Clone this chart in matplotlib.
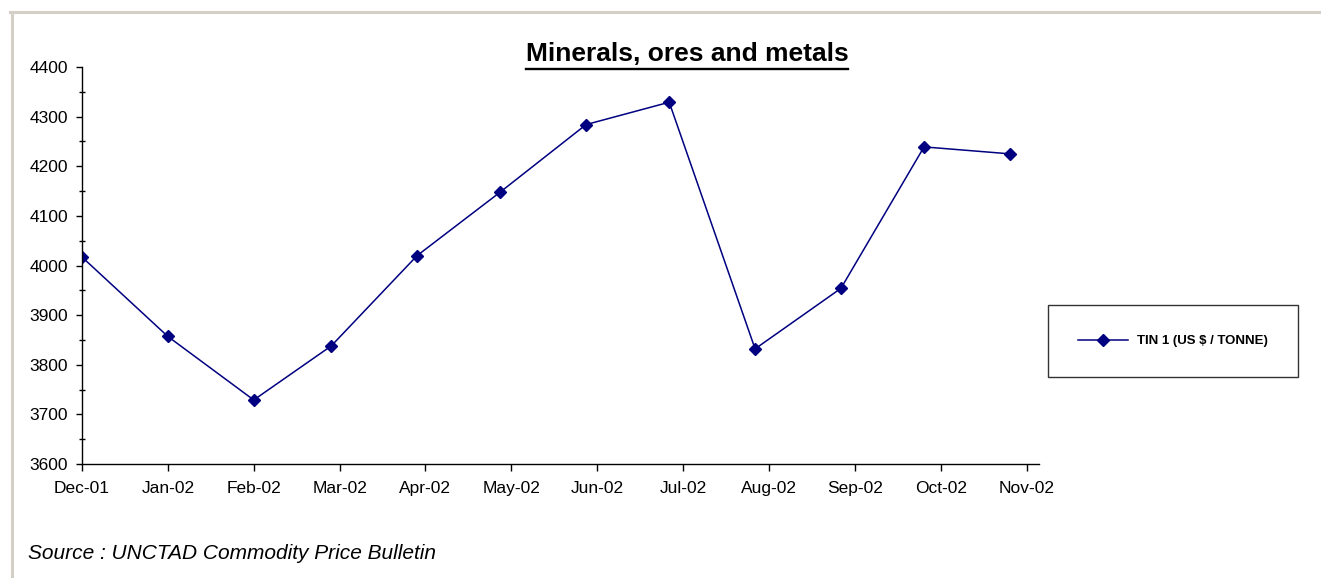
import numpy as np
import pandas as pd
import matplotlib
matplotlib.use("Agg")
import matplotlib.pyplot as plt
import matplotlib.dates as mdates
from matplotlib.lines import Line2D

plt.rcParams['font.family'] = ['Liberation Sans', 'DejaVu Sans']

# monthly tin prices (US $ / tonne)
months = ['2001-12-01', '2002-01-01', '2002-02-01', '2002-03-01', '2002-04-01', '2002-05-01',
          '2002-06-01', '2002-07-01', '2002-08-01', '2002-09-01', '2002-10-01', '2002-11-01']
tin_prices = [4017, 3857, 3729, 3838, 4020, 4148, 4284, 4329, 3832, 3954, 4239, 4225]
series_label = 'TIN 1 (US $ / TONNE)'
title_text = 'Minerals, ores and metals'
source_text = 'Source : UNCTAD Commodity Price Bulletin'

dates = pd.to_datetime(months)
W, H = 1321, 578
fig = plt.figure(figsize=(W / 100, H / 100), dpi=100)
fig.patch.set_facecolor('white')

ax = fig.add_axes([82 / W, 1 - 464 / H, (1039 - 82) / W, (464 - 67) / H])
line, = ax.plot(dates, tin_prices, color='#000080', lw=1.1, marker='D', ms=6,
                markerfacecolor='#000080', markeredgecolor='#000080', label=series_label)

# excel date axis: one tick every 31 days starting from the first month
ticks = pd.date_range(dates[0], periods=12, freq='31D')
ax.set_xticks(ticks)
ax.xaxis.set_major_formatter(mdates.DateFormatter('%b-%y'))
ax.set_xlim(dates[0], dates[0] + pd.Timedelta(days=345.5))

ax.set_ylim(3600, 4400)
ax.set_yticks(np.arange(3600, 4401, 100))
ax.set_yticks(np.arange(3650, 4400, 100), minor=True)

for s in ['top', 'right']:
    ax.spines[s].set_visible(False)
for s in ['left', 'bottom']:
    ax.spines[s].set_linewidth(1.0)
    ax.spines[s].set_color('black')

ax.tick_params(axis='both', which='major', direction='out', length=4, width=1, labelsize=12.5)
ax.tick_params(axis='x', which='major', length=5, pad=7)
ax.tick_params(axis='y', which='major', pad=6)
ax.tick_params(axis='y', which='minor', direction='inout', length=5, width=1)

leg = fig.legend(handles=[line], loc='center', bbox_to_anchor=(1173 / W, 1 - 341 / H),
                 frameon=True, fancybox=False, edgecolor='black', borderpad=2.25,
                 handlelength=3.8, handletextpad=0.7, prop={'weight': 'bold', 'size': 9.5})
leg.get_frame().set_linewidth(1.0)

t = fig.text(687 / W, 1 - 61 / H, title_text, ha='center', va='baseline',
             fontsize=19, fontweight='bold')
fig.canvas.draw()
bb = t.get_window_extent()
uy = bb.y0 - 1
fig.add_artist(Line2D([bb.x0 / W, bb.x1 / W], [uy / H - 0.003, uy / H - 0.003],
                      color='black', lw=1.7, transform=fig.transFigure))

fig.text(28 / W, 1 - 559 / H, source_text, ha='left', va='baseline',
         fontsize=15, fontstyle='italic')

# gray frame on left and top
frame_c = '#d4d0c8'
fig.add_artist(Line2D([11.5 / W, 11.5 / W], [0, 1 - 11.5 / H], color=frame_c, lw=2.2,
                      transform=fig.transFigure))
fig.add_artist(Line2D([10 / W, 1], [1 - 11.5 / H, 1 - 11.5 / H], color=frame_c, lw=2.2,
                      transform=fig.transFigure))

fig.savefig('out.png', dpi=100, facecolor='white')
